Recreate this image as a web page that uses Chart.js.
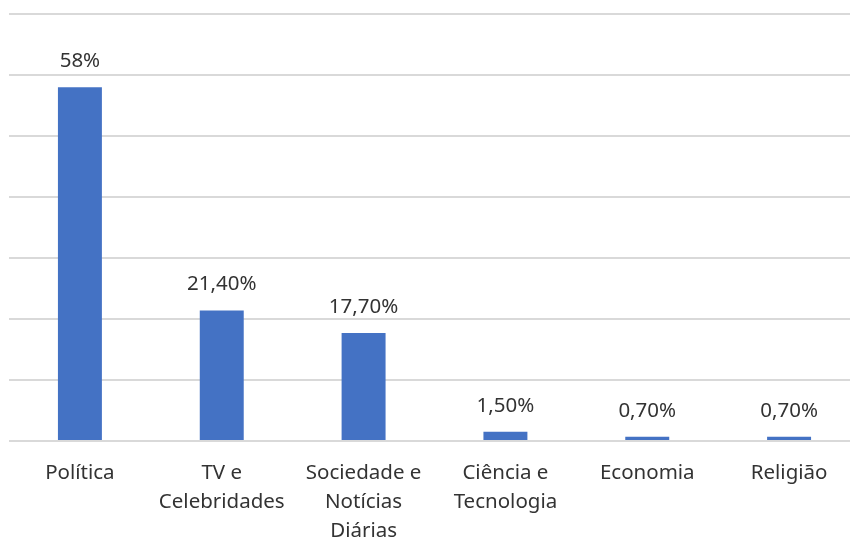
<!DOCTYPE html>
<html>
<head>
<meta charset="utf-8">
<script src="https://cdn.jsdelivr.net/npm/chart.js@4.4.0/dist/chart.umd.min.js"></script>
<style>
  html, body { margin: 0; padding: 0; background: #fff; overflow: hidden; }
  #wrap { position: relative; width: 860px; height: 539px; }
</style>
</head>
<body>
<div id="wrap"><canvas id="grafico"></canvas></div>
<script>
// categorias e percentuais
const categorias = [
  'Política',
  ['TV e', 'Celebridades'],
  ['Sociedade e', 'Notícias', 'Diárias'],
  ['Ciência e', 'Tecnologia'],
  'Economia',
  'Religião'
];
const percentuais = [58, 21.4, 17.7, 1.5, 0.7, 0.7];
const escalaMax = 70;
const escalaPasso = 10;

const corBarra = '#4472C4';
const corTexto = '#333333';
const fonte = "'Noto Sans', 'Open Sans', sans-serif";
const tamanho = 20.5;

// 58 -> "58%", 21.4 -> "21,40%"
function formatar(v) {
  if (Number.isInteger(v)) return v + '%';
  return v.toFixed(2).replace('.', ',') + '%';
}

// rótulos de valor acima das barras
const rotulos = {
  id: 'rotulos',
  afterDatasetsDraw(chart) {
    const ctx = chart.ctx;
    const meta = chart.getDatasetMeta(0);
    ctx.save();
    ctx.font = tamanho + 'px ' + fonte;
    ctx.fillStyle = corTexto;
    ctx.textAlign = 'center';
    ctx.textBaseline = 'middle';
    meta.data.forEach((bar, i) => {
      ctx.fillText(formatar(percentuais[i]), bar.x, bar.y - 26);
    });
    ctx.restore();
  }
};

new Chart(document.getElementById('grafico'), {
  type: 'bar',
  data: {
    labels: categorias,
    datasets: [{
      data: percentuais,
      backgroundColor: corBarra,
      borderWidth: 0,
      barPercentage: 0.31,
      categoryPercentage: 1
    }]
  },
  options: {
    responsive: true,
    maintainAspectRatio: false,
    animation: false,
    layout: { padding: { left: 9, right: 0, top: 14, bottom: 0 } },
    plugins: {
      legend: { display: false },
      tooltip: { enabled: false }
    },
    scales: {
      x: {
        grid: { display: false, drawTicks: false },
        border: { display: false },
        ticks: {
          color: corTexto,
          font: { family: fonte, size: tamanho, lineHeight: 1.415 },
          padding: 18,
          maxRotation: 0,
          autoSkip: false
        },
        afterFit(scale) { scale.height = 98; }
      },
      y: {
        min: 0,
        max: escalaMax,
        ticks: { display: false, stepSize: escalaPasso },
        grid: { color: '#d9d9d9', lineWidth: 2, drawTicks: false },
        border: { display: false }
      }
    }
  },
  plugins: [rotulos]
});
</script>
</body>
</html>
